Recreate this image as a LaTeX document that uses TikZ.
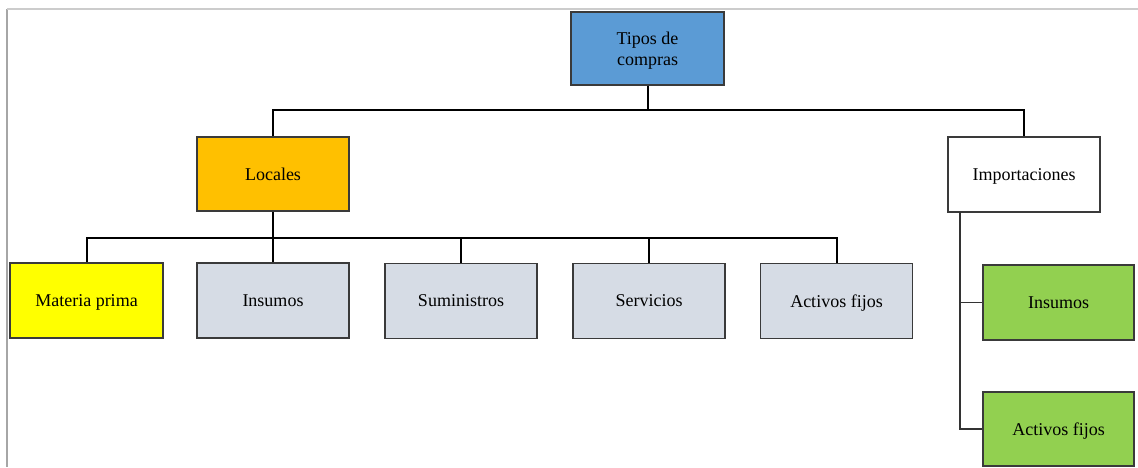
\documentclass[tikz,border=0pt]{standalone}
\usepackage{fontspec}
\setmainfont{Liberation Serif}
\usetikzlibrary{calc}
\definecolor{cblue}{HTML}{5B9BD5}
\definecolor{corange}{HTML}{FFC000}
\definecolor{cyellow}{HTML}{FFFF00}
\definecolor{cgray}{HTML}{D6DCE5}
\definecolor{cgreen}{HTML}{92D050}
\definecolor{cedge}{HTML}{3A3A3A}
\begin{document}
\begin{tikzpicture}[x=1pt,y=-1pt,
  box/.style={draw=cedge,line width=1.2pt,minimum width=152pt,minimum height=74pt,
    inner sep=0pt,text depth=0pt,align=center,font=\fontsize{18}{21}\selectfont},
  conn/.style={draw=black,line width=2pt},
  thinconn/.style={draw=black!80,line width=1.1pt}]
\useasboundingbox (0,0) rectangle (1138,467);
% page frame
\draw[draw=black!35,line width=1.5pt] (7,9) -- (7,467);
\draw[draw=black!20,line width=1.5pt] (7,9) -- (1138,9);

% nodes
\node[box,fill=cblue,minimum width=153pt,minimum height=73pt] (tipos) at (647.5,48.5) {Tipos de\\compras};
\node[box,fill=corange] (locales) at (273,174) {Locales};
\node[box,fill=white,minimum height=75pt] (import) at (1024,174.5) {Importaciones};
\node[box,fill=cyellow,minimum width=153pt,minimum height=75pt] (mp) at (86.5,300.5) {Materia prima};
\node[box,fill=cgray,minimum height=75pt] (ins) at (273,300.5) {Insumos};
\node[box,fill=cgray,minimum height=75pt] (sum) at (461,301) {Suministros};
\node[box,fill=cgray,minimum height=75pt] (ser) at (649,301) {Servicios};
\node[box,fill=cgray,minimum height=75pt] (act) at (836.5,301) {Activos fijos};
\node[box,fill=cgreen,minimum width=151pt,minimum height=75pt] (gins) at (1058.5,302.5) {Insumos};
\node[box,fill=cgreen,minimum width=151pt] (gact) at (1058.5,429) {Activos fijos};

% bus levels
\coordinate (b1) at (0,110);
\coordinate (b2) at (0,238);
\coordinate (trunk) at (960,212);

% connectors
\draw[conn] (tipos.south) -- (tipos.south |- b1);
\draw[conn] (locales.north) -- (locales.north |- b1) -| (import.north);
\draw[conn] (locales.south) -- (locales.south |- b2);
\draw[conn] (mp.north) -- (mp.north |- b2) -| (act.north);
\draw[conn] (ins.north) -- (ins.north |- b2);
\draw[conn] (sum.north) -- (sum.north |- b2);
\draw[conn] (ser.north) -- (ser.north |- b2);
\draw[thinconn] (trunk) |- (gact.west);
\draw[thinconn] (trunk |- gins.west) -- (gins.west);
\end{tikzpicture}
\end{document}
